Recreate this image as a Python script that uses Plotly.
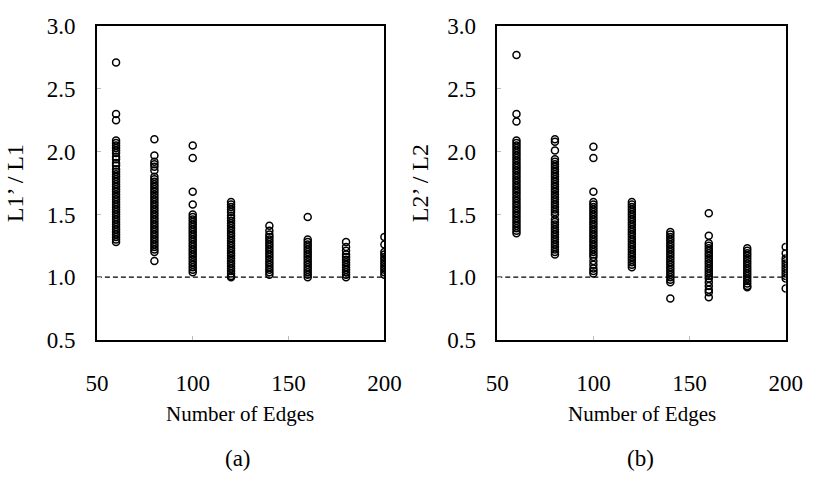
import plotly.graph_objects as go

edges = [60, 80, 100, 120, 140, 160, 180, 200]

# Panel (a): L1' / L1 values per edge count
a60 = [2.71, 2.30, 2.25, 2.09, 2.07, 2.05, 2.03, 2.01, 1.99, 1.96, 1.94, 1.91, 1.89, 1.86, 1.84, 1.82,
       1.80, 1.78, 1.76, 1.74, 1.72, 1.70, 1.68, 1.66, 1.64, 1.62, 1.60, 1.58, 1.56, 1.54, 1.52, 1.50,
       1.48, 1.46, 1.44, 1.42, 1.40, 1.38, 1.36, 1.34, 1.32, 1.30, 1.28]
a80 = [2.10, 1.97, 1.92, 1.90, 1.88, 1.85, 1.80, 1.78, 1.76, 1.74, 1.72, 1.70, 1.68, 1.66, 1.64, 1.62,
       1.60, 1.58, 1.56, 1.54, 1.52, 1.50, 1.48, 1.46, 1.44, 1.42, 1.40, 1.38, 1.36, 1.34, 1.32, 1.30,
       1.28, 1.26, 1.24, 1.22, 1.20, 1.13]
a100 = [2.05, 1.95, 1.68, 1.58, 1.50, 1.48, 1.46, 1.44, 1.42, 1.40, 1.38, 1.36, 1.34, 1.32, 1.30, 1.28,
        1.26, 1.24, 1.22, 1.20, 1.18, 1.16, 1.14, 1.12, 1.10, 1.08, 1.06, 1.04]
a120 = [1.60, 1.58, 1.56, 1.54, 1.52, 1.49, 1.47, 1.45, 1.43, 1.41, 1.39, 1.37, 1.35, 1.33, 1.31, 1.29,
        1.27, 1.25, 1.23, 1.21, 1.19, 1.17, 1.15, 1.13, 1.11, 1.09, 1.07, 1.05, 1.03, 1.01, 1.00]
a140 = [1.41, 1.37, 1.34, 1.32, 1.30, 1.28, 1.26, 1.24, 1.22, 1.20, 1.18, 1.16, 1.14, 1.12, 1.10, 1.08,
        1.06, 1.04, 1.02]
a160 = [1.48, 1.30, 1.28, 1.26, 1.24, 1.22, 1.20, 1.18, 1.16, 1.14, 1.12, 1.10, 1.08, 1.06, 1.04, 1.02,
        1.00]
a180 = [1.28, 1.24, 1.21, 1.18, 1.16, 1.14, 1.12, 1.10, 1.08, 1.06, 1.04, 1.02, 1.00]
a200 = [1.32, 1.26, 1.20, 1.18, 1.16, 1.14, 1.12, 1.10, 1.08, 1.06, 1.04, 1.02]

# Panel (b): L2' / L2 values per edge count
b60 = [2.77, 2.30, 2.24, 2.09, 2.07, 2.05, 2.03, 2.01, 1.99, 1.97, 1.95, 1.93, 1.91, 1.89, 1.87, 1.85,
       1.83, 1.81, 1.79, 1.77, 1.75, 1.73, 1.71, 1.69, 1.67, 1.65, 1.63, 1.61, 1.59, 1.57, 1.55, 1.53,
       1.51, 1.49, 1.47, 1.45, 1.43, 1.41, 1.39, 1.37, 1.35]
b80 = [2.10, 2.08, 2.01, 1.94, 1.92, 1.90, 1.88, 1.86, 1.84, 1.82, 1.80, 1.78, 1.76, 1.74, 1.72, 1.70,
       1.68, 1.66, 1.64, 1.62, 1.60, 1.58, 1.56, 1.54, 1.52, 1.50, 1.46, 1.44, 1.42, 1.40, 1.38, 1.36,
       1.34, 1.32, 1.30, 1.28, 1.26, 1.24, 1.22, 1.20, 1.18]
b100 = [2.04, 1.95, 1.68, 1.60, 1.58, 1.56, 1.54, 1.52, 1.50, 1.48, 1.46, 1.44, 1.42, 1.40, 1.38, 1.36,
        1.34, 1.32, 1.30, 1.28, 1.26, 1.24, 1.22, 1.20, 1.18, 1.16, 1.13, 1.10, 1.07, 1.05, 1.03]
b120 = [1.60, 1.58, 1.56, 1.54, 1.52, 1.50, 1.48, 1.46, 1.44, 1.42, 1.40, 1.38, 1.36, 1.34, 1.32, 1.30,
        1.28, 1.26, 1.24, 1.22, 1.20, 1.18, 1.16, 1.14, 1.12, 1.10, 1.08]
b140 = [1.36, 1.34, 1.32, 1.30, 1.28, 1.26, 1.24, 1.22, 1.20, 1.18, 1.16, 1.14, 1.12, 1.10, 1.08, 1.06,
        1.04, 1.02, 1.00, 0.98, 0.96, 0.83]
b160 = [1.51, 1.33, 1.27, 1.25, 1.23, 1.21, 1.19, 1.17, 1.15, 1.13, 1.11, 1.09, 1.07, 1.05, 1.03, 1.01,
        0.99, 0.96, 0.93, 0.90, 0.88, 0.84]
b180 = [1.23, 1.21, 1.19, 1.17, 1.15, 1.13, 1.11, 1.09, 1.07, 1.05, 1.03, 1.01, 0.99, 0.97, 0.95, 0.93,
        0.92]
b200 = [1.24, 1.19, 1.15, 1.13, 1.11, 1.09, 1.07, 1.05, 1.03, 1.01, 0.99, 0.91]

panel_a = [a60, a80, a100, a120, a140, a160, a180, a200]
panel_b = [b60, b80, b100, b120, b140, b160, b180, b200]

x_ticks = [50, 100, 150, 200]
y_ticks = [0.5, 1.0, 1.5, 2.0, 2.5, 3.0]
y_tick_text = ["0.5", "1.0", "1.5", "2.0", "2.5", "3.0"]

FONT = "Liberation Serif, DejaVu Serif, serif"

def flatten(groups):
    xs, ys = [], []
    for e, vals in zip(edges, groups):
        xs += [e] * len(vals)
        ys += vals
    return xs, ys

fig = go.Figure()
marker = dict(symbol="circle-open", size=7, color="black", line=dict(width=1.5, color="black"))

xa, ya = flatten(panel_a)
xb, yb = flatten(panel_b)
fig.add_trace(go.Scatter(x=xa, y=ya, mode="markers", marker=marker, xaxis="x", yaxis="y", showlegend=False))
fig.add_trace(go.Scatter(x=xb, y=yb, mode="markers", marker=marker, xaxis="x2", yaxis="y2", showlegend=False))

# dashed reference line at 1.0
for xr, yr in [("x", "y"), ("x2", "y2")]:
    fig.add_shape(type="line", xref=xr + " domain", yref=yr, x0=0, x1=1, y0=1.0, y1=1.0,
                  line=dict(color="black", width=1.3, dash="5px,3px"), layer="below")

ydom = [1 - 346 / 479, 1 - 15 / 479]
axis_common = dict(showline=True, linecolor="black", linewidth=1.5, mirror=True, showgrid=False,
                   zeroline=False, ticks="inside", ticklen=4, tickcolor="#bbbbbb",
                   tickfont=dict(family=FONT, size=23, color="black"))
title_font = dict(family=FONT, size=24, color="black")
fig.update_layout(
    width=822, height=479,
    margin=dict(l=0, r=0, t=0, b=0),
    paper_bgcolor="white", plot_bgcolor="white",
    xaxis=dict(domain=[88 / 822, 386 / 822], range=[50, 200], tickvals=x_ticks,
               ticklabelstandoff=22, anchor="y", **axis_common),
    yaxis=dict(domain=ydom, range=[0.5, 3.0], tickvals=y_ticks, ticktext=y_tick_text,
               ticklabelstandoff=15, anchor="x",
               title=dict(text="L1’ / L1", font=title_font, standoff=16), **axis_common),
    xaxis2=dict(domain=[503 / 822, 802 / 822], range=[50, 200], tickvals=x_ticks,
                ticklabelstandoff=22, anchor="y2", **axis_common),
    yaxis2=dict(domain=ydom, range=[0.5, 3.0], tickvals=y_ticks, ticktext=y_tick_text,
                ticklabelstandoff=15, anchor="x2",
                title=dict(text="L2’ / L2", font=title_font, standoff=12), **axis_common),
)

annots = [
    dict(x=236 / 822, y=1 - 424 / 479, text="Number of Edges", font=dict(family=FONT, size=21, color="black")),
    dict(x=653 / 822, y=1 - 424 / 479, text="Number of Edges", font=dict(family=FONT, size=21, color="black")),
    dict(x=234 / 822, y=1 - 471 / 479, text="(a)", font=dict(family=FONT, size=23, color="black")),
    dict(x=651 / 822, y=1 - 471 / 479, text="(b)", font=dict(family=FONT, size=23, color="black")),
]
for a in annots:
    fig.add_annotation(xref="paper", yref="paper", xanchor="center", yanchor="middle",
                       showarrow=False, **a)

fig.write_html("out.html")
